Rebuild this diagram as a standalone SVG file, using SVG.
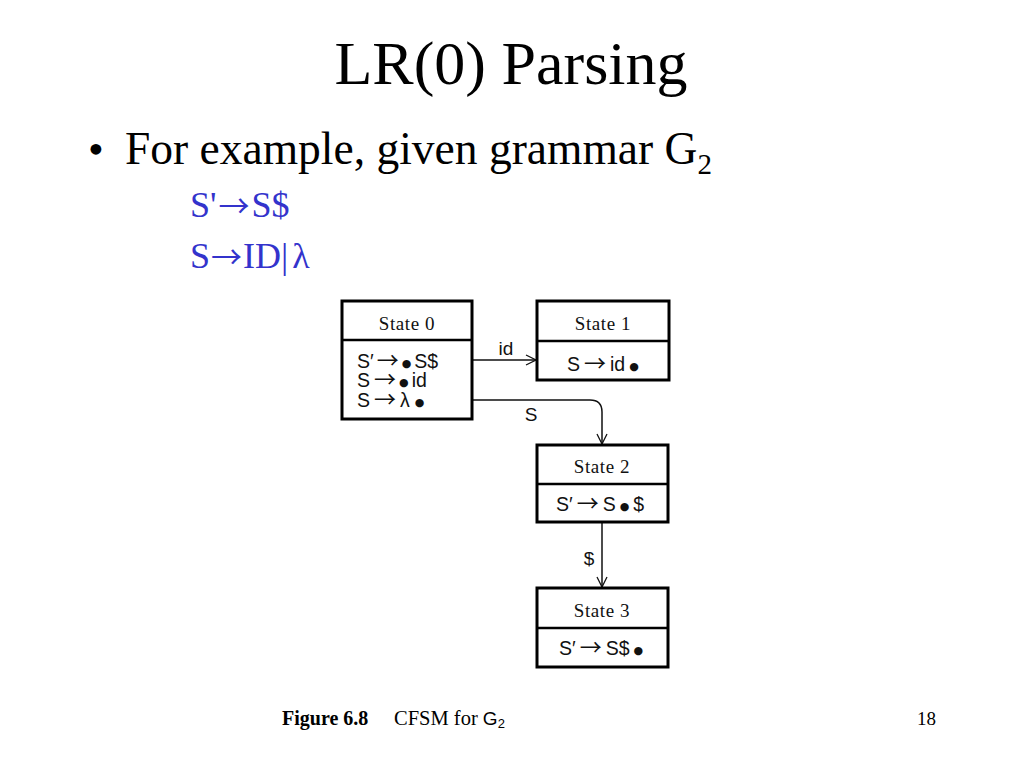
<svg xmlns="http://www.w3.org/2000/svg" width="1024" height="768" viewBox="0 0 1024 768">
<style>
.serif{font-family:"Liberation Serif","Times New Roman",serif;}
.sans{font-family:"Liberation Sans",Arial,sans-serif;}
.box{fill:#fff;stroke:#000;stroke-width:3;}
.div{stroke:#000;stroke-width:2.5;}
.hdr{font-family:"Liberation Serif","Times New Roman",serif;font-size:19px;letter-spacing:0.6px;text-anchor:middle;fill:#111;}
.item{font-family:"Liberation Sans",Arial,sans-serif;font-size:19.5px;fill:#111;}
.ar{font-family:"Noto Sans CJK SC","DejaVu Sans",sans-serif;font-size:22px;}
.dot{font-family:"DejaVu Sans",sans-serif;font-size:11px;}
.edge{fill:none;stroke:#111;stroke-width:1.5;}
.lbl{font-family:"Liberation Sans",Arial,sans-serif;font-size:19px;fill:#111;text-anchor:middle;}
.blue{font-family:"Liberation Serif","Times New Roman",serif;font-size:36px;fill:#3333cc;}
.bar{font-family:"Noto Sans CJK SC","DejaVu Sans",sans-serif;font-size:31px;}
</style>
<defs>
<marker id="arr" markerWidth="12" markerHeight="12" refX="11" refY="6" orient="auto" markerUnits="userSpaceOnUse">
<path d="M1,1 L11,6 L1,11" fill="none" stroke="#111" stroke-width="1.3"/>
</marker>
</defs>
<rect width="1024" height="768" fill="#fff"/>
<text class="serif" x="511" y="84" font-size="62" text-anchor="middle">LR(0) Parsing</text>
<text class="serif" x="88" y="164" font-size="45">•</text>
<text class="serif" x="125" y="164" font-size="45.5">For example, given grammar G<tspan font-size="29" dy="10">2</tspan></text>
<text class="blue" x="190" y="217">S'<tspan class="bar" dx="2">→</tspan><tspan dx="2">S$</tspan></text>
<text class="blue" x="190" y="268">S<tspan class="bar" dx="1">→</tspan><tspan dx="1">ID|</tspan><tspan dx="4">λ</tspan></text>

<g id="connectors">
<line class="edge" x1="472" y1="360" x2="536" y2="360" marker-end="url(#arr)"/>
<text class="lbl" x="506" y="355">id</text>
<path class="edge" d="M472,400 L590,400 Q602,400 602,412 L602,444" marker-end="url(#arr)"/>
<text class="lbl" x="531" y="421">S</text>
<line class="edge" x1="602" y1="523" x2="602" y2="587" marker-end="url(#arr)"/>
<text class="lbl" x="589" y="565">$</text>
</g>

<g id="state0">
<rect class="box" x="342" y="301" width="130" height="118"/>
<line class="div" x1="342" y1="340" x2="472" y2="340"/>
<text class="hdr" x="407" y="330">State 0</text>
<text class="item" x="357" y="368">S′<tspan class="ar" dx="3">→</tspan><tspan class="dot" dx="3" dy="-1">●</tspan><tspan dx="3" dy="1">S$</tspan></text>
<text class="item" x="357" y="387">S<tspan class="ar" dx="4">→</tspan><tspan class="dot" dx="3" dy="-1">●</tspan><tspan dx="3" dy="1">id</tspan></text>
<text class="item" x="357" y="407">S<tspan class="ar" dx="4">→</tspan><tspan dx="4">λ</tspan><tspan class="dot" dx="5" dy="-1">●</tspan></text>
</g>
<g id="state1">
<rect class="box" x="537" y="301" width="132" height="79"/>
<line class="div" x1="537" y1="341" x2="669" y2="341"/>
<text class="hdr" x="603" y="330">State 1</text>
<text class="item" x="567" y="371">S<tspan class="ar" dx="4">→</tspan><tspan dx="4">id</tspan><tspan class="dot" dx="4" dy="-1">●</tspan></text>
</g>
<g id="state2">
<rect class="box" x="537" y="445" width="131" height="77"/>
<line class="div" x1="537" y1="484" x2="668" y2="484"/>
<text class="hdr" x="602" y="473">State 2</text>
<text class="item" x="556" y="511">S′<tspan class="ar" dx="4">→</tspan><tspan dx="4">S</tspan><tspan class="dot" dx="4" dy="-1">●</tspan><tspan dx="4" dy="1">$</tspan></text>
</g>
<g id="state3">
<rect class="box" x="537" y="588" width="131" height="79"/>
<line class="div" x1="537" y1="628" x2="668" y2="628"/>
<text class="hdr" x="602" y="617">State 3</text>
<text class="item" x="559" y="655">S′<tspan class="ar" dx="4">→</tspan><tspan dx="4">S$</tspan><tspan class="dot" dx="4" dy="-1">●</tspan></text>
</g>

<text class="serif" x="282" y="725" font-size="20" font-weight="bold">Figure 6.8</text>
<text class="serif" x="394" y="725" font-size="20.5">CFSM for <tspan class="sans" font-size="19">G</tspan><tspan class="sans" font-size="13" dy="3">2</tspan></text>
<text class="serif" x="917" y="725" font-size="19">18</text>
</svg>
